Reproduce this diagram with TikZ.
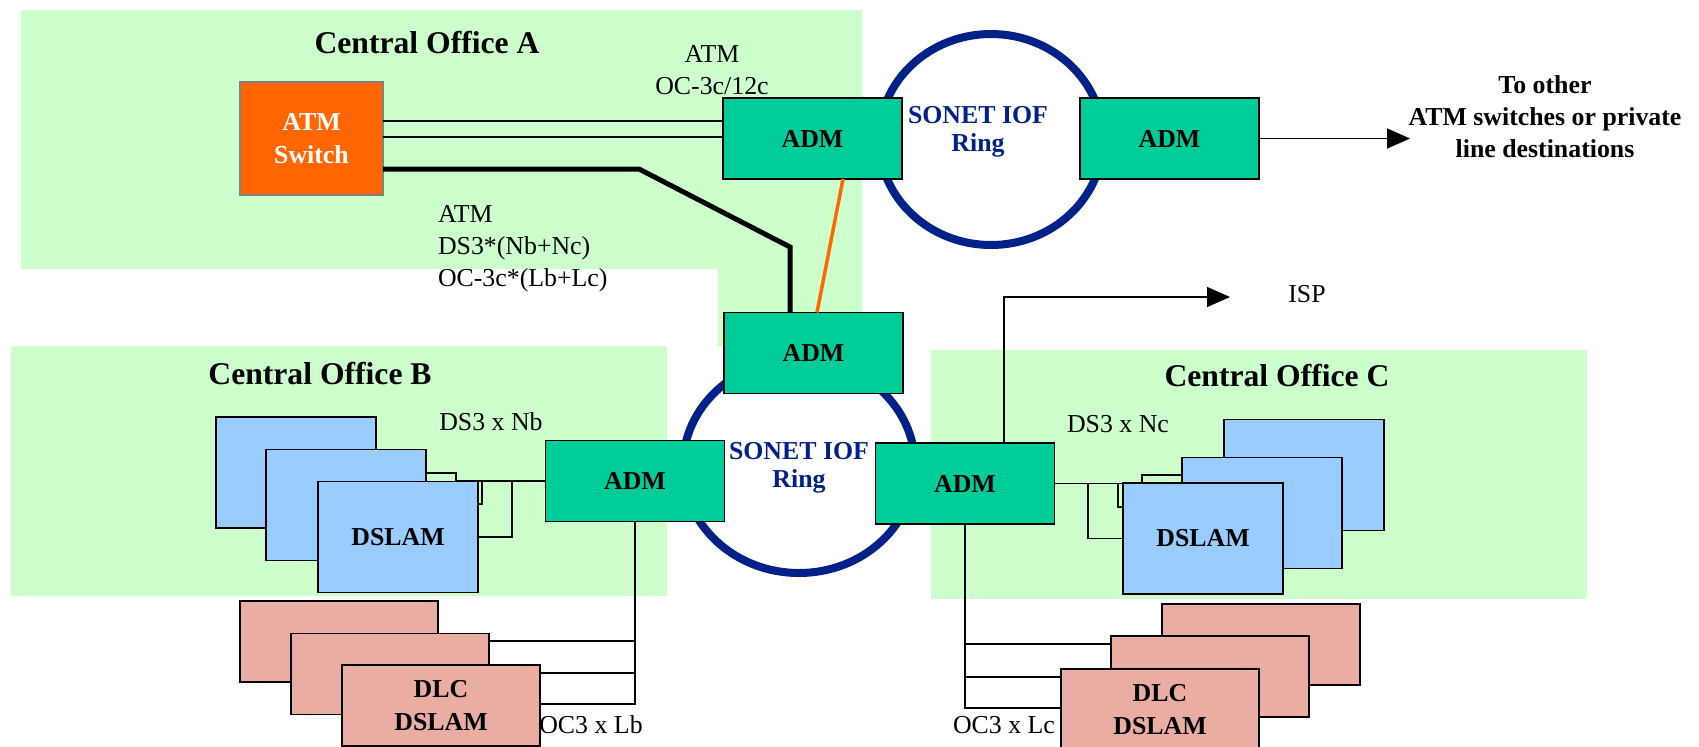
\documentclass[tikz,border=0pt]{standalone}
\usepackage{fontspec}
\setmainfont{Liberation Serif}
\usetikzlibrary{arrows.meta}

\definecolor{cogreen}{HTML}{CCFFCC}
\definecolor{admgreen}{HTML}{00CC99}
\definecolor{dslamblue}{HTML}{99CCFF}
\definecolor{dlcpink}{HTML}{EAADA4}
\definecolor{atmorange}{HTML}{FF6600}
\definecolor{ringblue}{HTML}{002288}

\begin{document}
\begin{tikzpicture}[x=0.2mm, y={(0,-0.2mm)},
  every node/.style={font=\fontsize{14.7}{18.2}\selectfont, inner sep=0pt, outer sep=0pt},
  box/.style={draw, line width=0.8pt, align=center, font=\fontsize{14.7}{18.6}\selectfont\bfseries},
  adm/.style={box, fill=admgreen, minimum width=35.8mm, minimum height=16.2mm},
  dslam/.style={box, fill=dslamblue, minimum width=32mm, minimum height=22.2mm},
  dlc/.style={box, fill=dlcpink, minimum width=39.6mm, minimum height=16.2mm},
  office/.style={font=\fontsize{18}{22}\selectfont\bfseries, anchor=base},
  ring/.style={draw=ringblue, line width=1.6mm},
  ringlabel/.style={text=ringblue, font=\fontsize{14.7}{15.9}\selectfont\bfseries, align=center, anchor=north},
  link/.style={line width=0.75pt},
  arr/.style={link, -{Triangle[length=4.6mm, width=4mm]}}]
  \useasboundingbox (0,0) rectangle (1699,747);

  % central offices
  \fill[cogreen] (21,10) -- (862,10) -- (862,346) -- (718,346) -- (718,269) -- (21,269) -- cycle;
  \fill[cogreen] (11,346) rectangle (667,596);
  \fill[cogreen] (931,350) rectangle (1587,599);
  \node[office] (coA) at (427,53) {Central Office A};
  \node[office] (coB) at (320,384) {Central Office B};
  \node[office] (coC) at (1277,386) {Central Office C};

  % rings
  \draw[ring] (991,139.5) ellipse [x radius=22.4mm, y radius=21.1mm];
  \draw[ring] (799,466) ellipse [x radius=23.2mm, y radius=21.4mm];
  \node[ringlabel] (ringA) at (978,106) {SONET IOF\\Ring};
  \node[ringlabel] (ringB) at (799,442) {SONET IOF\\Ring};

  % boxes
  \node[box, fill=atmorange, draw=gray, text=white, minimum width=28.6mm, minimum height=22.6mm] (atmsw) at (311.5,138.5) {ATM\\Switch};
  \node[adm] (admA) at (812.5,138.5) {ADM};
  \node[adm] (admD) at (1169.5,138.5) {ADM};
  \node[adm] (admL) at (813.5,353) {ADM};
  \node[adm] (admB) at (635,481) {ADM};
  \node[adm] (admC) at (965,483.5) {ADM};

  \node[dslam] (dslamB1) at (296,472.5) {};
  \node[dslam] (dslamB2) at (346,505) {};
  \node[dslam] (dslamB3) at (398,537) {DSLAM};
  \node[dslam] (dslamC1) at (1304,475) {};
  \node[dslam] (dslamC2) at (1262,513) {};
  \node[dslam] (dslamC3) at (1203,538.5) {DSLAM};

  \node[dlc] (dlcB1) at (339,641.5) {};
  \node[dlc] (dlcB2) at (390,674) {};
  \node[dlc] (dlcB3) at (441,705.5) {DLC\\DSLAM};
  \node[dlc] (dlcC1) at (1261,644.5) {};
  \node[dlc] (dlcC2) at (1210,676.5) {};
  \node[dlc] (dlcC3) at (1160,709.5) {DLC\\DSLAM};

  \coordinate (toOther) at (1410,138.5);
  \coordinate (ispTip) at (1230,297);

  % links
  \draw[link] (atmsw.east |- 0,121) -- (admA.west |- 0,121);
  \draw[link] (atmsw.east |- 0,137) -- (admA.west |- 0,137);
  \draw[line width=1mm] (atmsw.east |- 0,169) -- (639,169) -- (790,247) -- (admL.north -| 790,0);
  \draw[atmorange, line width=0.7mm] (admA.south -| 843,0) -- (admL.north -| 817,0);
  \draw[arr] (admD.east) -- (toOther);
  \draw[arr] (admC.north -| 1004,0) |- (ispTip);

  \draw[link] (admB.west) -- (456,481) |- (dslamB2.east |- 0,473);
  \draw[link] (482,481) |- (dslamB3.east |- 0,504);
  \draw[link] (512,481) |- (dslamB3.east);
  \draw[link] (admC.east) -- (1142,483.5) |- (dslamC2.west |- 0,475);
  \draw[link] (1118,483.5) |- (dslamC3.west |- 0,507);
  \draw[link] (1088,483.5) |- (dslamC3.west);

  \draw[link] (admB.south) |- (dlcB2.east |- 0,641);
  \draw[link] (admB.south) |- (dlcB3.east |- 0,673);
  \draw[link] (admB.south) |- (dlcB3.east |- 0,704);
  \draw[link] (admC.south) |- (dlcC2.west |- 0,644);
  \draw[link] (admC.south) |- (dlcC3.west |- 0,677);
  \draw[link] (admC.south) |- (dlcC3.west |- 0,708);

  % labels
  \node[anchor=north, align=center] (lblOC) at (712,45) {ATM\\OC-3c/12c};
  \node[anchor=north west, align=left] (lblDS) at (438,205) {ATM\\DS3*(Nb+Nc)\\OC-3c*(Lb+Lc)};
  \node[anchor=north, align=center, font=\fontsize{14.7}{18.2}\selectfont\bfseries] (lblOther) at (1545,76) {To other\\ATM switches or private\\line destinations};
  \node[anchor=base] (isp) at (1307,302) {ISP};
  \node[anchor=base] (lblNb) at (491,430) {DS3 x Nb};
  \node[anchor=base] (lblNc) at (1118,432) {DS3 x Nc};
  \node[anchor=base] (lblLb) at (591,733) {OC3 x Lb};
  \node[anchor=base] (lblLc) at (1004,733) {OC3 x Lc};
\end{tikzpicture}
\end{document}
